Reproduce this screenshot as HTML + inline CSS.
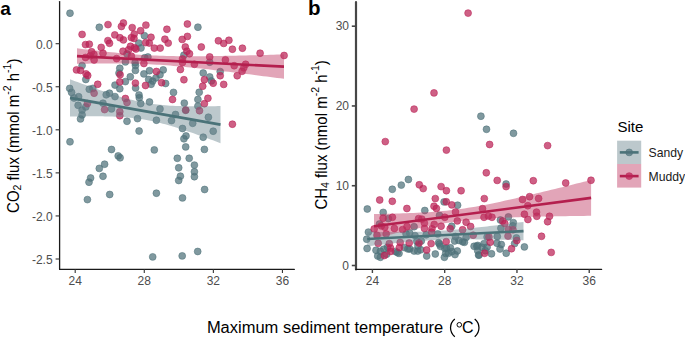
<!DOCTYPE html><html><head><meta charset="utf-8"><style>
html,body{margin:0;padding:0;background:#fff;width:685px;height:338px;overflow:hidden}
svg{display:block}
text{font-family:"Liberation Sans",sans-serif}
.tk{font-size:12px;fill:#4d4d4d}
.ti{font-size:16px;fill:#000}
.yt{font-size:15px;fill:#000}
.ss{font-size:10.5px}
.pl{font-size:19px;font-weight:bold;fill:#000}
.lt{font-size:15px;fill:#000}
.lg{font-size:12.2px;fill:#1a1a1a}
</style></head><body><svg width="685" height="338" viewBox="0 0 685 338"><rect width="685" height="338" fill="#fff"/><g fill="#4f727a" fill-opacity="0.72" stroke="#4f727a" stroke-opacity="0.72" stroke-width="0.75"><circle cx="70.0" cy="13.2" r="3.45"/><circle cx="197.9" cy="27.2" r="3.45"/><circle cx="99.3" cy="27.3" r="3.45"/><circle cx="144.4" cy="35.7" r="3.45"/><circle cx="138.8" cy="43.1" r="3.45"/><circle cx="141.0" cy="48.0" r="3.45"/><circle cx="127.0" cy="54.0" r="3.45"/><circle cx="125.4" cy="61.9" r="3.45"/><circle cx="135.1" cy="62.7" r="3.45"/><circle cx="135.5" cy="65.5" r="3.45"/><circle cx="144.7" cy="57.8" r="3.45"/><circle cx="147.9" cy="57.0" r="3.45"/><circle cx="82.1" cy="65.6" r="3.45"/><circle cx="85.8" cy="79.5" r="3.45"/><circle cx="119.8" cy="68.3" r="3.45"/><circle cx="119.0" cy="73.1" r="3.45"/><circle cx="130.3" cy="76.8" r="3.45"/><circle cx="125.4" cy="81.6" r="3.45"/><circle cx="115.0" cy="85.1" r="3.45"/><circle cx="119.8" cy="88.7" r="3.45"/><circle cx="135.4" cy="70.4" r="3.45"/><circle cx="143.9" cy="73.9" r="3.45"/><circle cx="149.5" cy="70.7" r="3.45"/><circle cx="163.2" cy="69.9" r="3.45"/><circle cx="160.0" cy="74.7" r="3.45"/><circle cx="148.7" cy="79.5" r="3.45"/><circle cx="152.7" cy="81.1" r="3.45"/><circle cx="155.9" cy="77.9" r="3.45"/><circle cx="151.1" cy="84.3" r="3.45"/><circle cx="165.6" cy="83.5" r="3.45"/><circle cx="135.6" cy="88.0" r="3.45"/><circle cx="92.8" cy="88.4" r="3.45"/><circle cx="89.3" cy="89.2" r="3.45"/><circle cx="69.7" cy="88.4" r="3.45"/><circle cx="71.6" cy="92.4" r="3.45"/><circle cx="106.2" cy="94.8" r="3.45"/><circle cx="109.5" cy="93.2" r="3.45"/><circle cx="115.0" cy="96.6" r="3.45"/><circle cx="78.6" cy="96.7" r="3.45"/><circle cx="74.0" cy="98.0" r="3.45"/><circle cx="139.0" cy="95.0" r="3.45"/><circle cx="139.3" cy="97.8" r="3.45"/><circle cx="185.7" cy="110.3" r="3.45"/><circle cx="183.9" cy="55.2" r="3.45"/><circle cx="209.7" cy="62.2" r="3.45"/><circle cx="203.2" cy="73.0" r="3.45"/><circle cx="220.2" cy="71.6" r="3.45"/><circle cx="209.7" cy="76.9" r="3.45"/><circle cx="211.4" cy="80.9" r="3.45"/><circle cx="199.2" cy="92.3" r="3.45"/><circle cx="173.5" cy="92.4" r="3.45"/><circle cx="197.9" cy="99.5" r="3.45"/><circle cx="140.7" cy="103.6" r="3.45"/><circle cx="149.5" cy="102.0" r="3.45"/><circle cx="78.1" cy="105.3" r="3.45"/><circle cx="85.8" cy="106.9" r="3.45"/><circle cx="82.1" cy="110.1" r="3.45"/><circle cx="82.1" cy="114.9" r="3.45"/><circle cx="80.5" cy="118.9" r="3.45"/><circle cx="103.0" cy="103.2" r="3.45"/><circle cx="111.5" cy="108.9" r="3.45"/><circle cx="127.0" cy="121.3" r="3.45"/><circle cx="137.5" cy="118.6" r="3.45"/><circle cx="139.1" cy="131.0" r="3.45"/><circle cx="160.0" cy="108.9" r="3.45"/><circle cx="156.4" cy="120.2" r="3.45"/><circle cx="171.5" cy="120.6" r="3.45"/><circle cx="70.0" cy="141.8" r="3.45"/><circle cx="184.3" cy="103.1" r="3.45"/><circle cx="197.9" cy="106.1" r="3.45"/><circle cx="175.5" cy="114.5" r="3.45"/><circle cx="208.4" cy="117.2" r="3.45"/><circle cx="192.7" cy="123.3" r="3.45"/><circle cx="182.5" cy="128.5" r="3.45"/><circle cx="213.2" cy="131.2" r="3.45"/><circle cx="186.0" cy="135.9" r="3.45"/><circle cx="183.9" cy="138.8" r="3.45"/><circle cx="203.2" cy="137.2" r="3.45"/><circle cx="111.5" cy="149.5" r="3.45"/><circle cx="118.2" cy="155.9" r="3.45"/><circle cx="120.1" cy="157.8" r="3.45"/><circle cx="154.3" cy="149.9" r="3.45"/><circle cx="104.6" cy="164.2" r="3.45"/><circle cx="99.3" cy="168.4" r="3.45"/><circle cx="103.0" cy="176.3" r="3.45"/><circle cx="90.6" cy="178.0" r="3.45"/><circle cx="89.0" cy="182.2" r="3.45"/><circle cx="185.7" cy="146.9" r="3.45"/><circle cx="204.4" cy="149.4" r="3.45"/><circle cx="177.3" cy="158.3" r="3.45"/><circle cx="189.2" cy="158.3" r="3.45"/><circle cx="194.4" cy="165.1" r="3.45"/><circle cx="178.7" cy="167.8" r="3.45"/><circle cx="194.4" cy="171.8" r="3.45"/><circle cx="194.4" cy="176.7" r="3.45"/><circle cx="180.4" cy="176.2" r="3.45"/><circle cx="178.7" cy="180.5" r="3.45"/><circle cx="204.6" cy="189.5" r="3.45"/><circle cx="109.7" cy="194.5" r="3.45"/><circle cx="87.4" cy="199.6" r="3.45"/><circle cx="156.4" cy="193.2" r="3.45"/><circle cx="182.5" cy="197.9" r="3.45"/><circle cx="152.7" cy="256.9" r="3.45"/><circle cx="182.2" cy="255.9" r="3.45"/><circle cx="197.7" cy="251.5" r="3.45"/></g><g fill="#bb2356" fill-opacity="0.72" stroke="#bb2356" stroke-opacity="0.72" stroke-width="0.75"><circle cx="108.0" cy="24.6" r="3.45"/><circle cx="123.4" cy="23.0" r="3.45"/><circle cx="121.4" cy="26.5" r="3.45"/><circle cx="132.2" cy="27.6" r="3.45"/><circle cx="145.9" cy="25.1" r="3.45"/><circle cx="166.9" cy="29.3" r="3.45"/><circle cx="82.1" cy="34.4" r="3.45"/><circle cx="114.8" cy="34.9" r="3.45"/><circle cx="119.9" cy="37.7" r="3.45"/><circle cx="123.4" cy="39.9" r="3.45"/><circle cx="140.6" cy="30.7" r="3.45"/><circle cx="134.2" cy="34.1" r="3.45"/><circle cx="134.0" cy="38.5" r="3.45"/><circle cx="131.4" cy="37.6" r="3.45"/><circle cx="151.0" cy="37.3" r="3.45"/><circle cx="145.7" cy="42.6" r="3.45"/><circle cx="149.3" cy="43.1" r="3.45"/><circle cx="164.9" cy="39.2" r="3.45"/><circle cx="168.2" cy="43.1" r="3.45"/><circle cx="107.9" cy="40.6" r="3.45"/><circle cx="109.5" cy="43.3" r="3.45"/><circle cx="85.5" cy="44.6" r="3.45"/><circle cx="89.3" cy="44.2" r="3.45"/><circle cx="101.2" cy="47.4" r="3.45"/><circle cx="91.6" cy="51.8" r="3.45"/><circle cx="103.0" cy="53.3" r="3.45"/><circle cx="130.5" cy="46.3" r="3.45"/><circle cx="134.5" cy="47.8" r="3.45"/><circle cx="154.3" cy="48.1" r="3.45"/><circle cx="160.2" cy="48.1" r="3.45"/><circle cx="123.0" cy="51.2" r="3.45"/><circle cx="85.5" cy="57.5" r="3.45"/><circle cx="94.1" cy="60.0" r="3.45"/><circle cx="93.9" cy="54.5" r="3.45"/><circle cx="90.3" cy="55.8" r="3.45"/><circle cx="116.6" cy="58.6" r="3.45"/><circle cx="131.4" cy="56.2" r="3.45"/><circle cx="128.6" cy="49.8" r="3.45"/><circle cx="135.9" cy="49.0" r="3.45"/><circle cx="143.9" cy="63.5" r="3.45"/><circle cx="76.5" cy="69.9" r="3.45"/><circle cx="80.5" cy="70.4" r="3.45"/><circle cx="86.1" cy="73.9" r="3.45"/><circle cx="87.7" cy="75.5" r="3.45"/><circle cx="120.1" cy="74.7" r="3.45"/><circle cx="119.8" cy="81.9" r="3.45"/><circle cx="156.4" cy="71.5" r="3.45"/><circle cx="161.6" cy="82.7" r="3.45"/><circle cx="135.4" cy="83.1" r="3.45"/><circle cx="145.5" cy="85.5" r="3.45"/><circle cx="97.7" cy="84.3" r="3.45"/><circle cx="94.1" cy="93.2" r="3.45"/><circle cx="125.4" cy="98.5" r="3.45"/><circle cx="127.0" cy="102.5" r="3.45"/><circle cx="87.4" cy="103.6" r="3.45"/><circle cx="104.6" cy="109.6" r="3.45"/><circle cx="119.8" cy="111.7" r="3.45"/><circle cx="119.8" cy="115.7" r="3.45"/><circle cx="187.4" cy="24.0" r="3.45"/><circle cx="187.4" cy="36.4" r="3.45"/><circle cx="182.2" cy="39.4" r="3.45"/><circle cx="218.4" cy="40.8" r="3.45"/><circle cx="223.7" cy="43.4" r="3.45"/><circle cx="228.9" cy="40.3" r="3.45"/><circle cx="201.3" cy="47.0" r="3.45"/><circle cx="185.3" cy="47.0" r="3.45"/><circle cx="232.4" cy="49.2" r="3.45"/><circle cx="242.4" cy="48.2" r="3.45"/><circle cx="186.9" cy="51.2" r="3.45"/><circle cx="189.5" cy="53.8" r="3.45"/><circle cx="260.1" cy="53.2" r="3.45"/><circle cx="284.1" cy="55.5" r="3.45"/><circle cx="209.7" cy="56.9" r="3.45"/><circle cx="225.4" cy="59.9" r="3.45"/><circle cx="182.5" cy="59.0" r="3.45"/><circle cx="182.5" cy="62.5" r="3.45"/><circle cx="194.4" cy="64.3" r="3.45"/><circle cx="234.2" cy="65.7" r="3.45"/><circle cx="245.6" cy="64.3" r="3.45"/><circle cx="243.8" cy="67.8" r="3.45"/><circle cx="242.1" cy="71.3" r="3.45"/><circle cx="237.2" cy="75.7" r="3.45"/><circle cx="180.4" cy="69.5" r="3.45"/><circle cx="220.2" cy="75.7" r="3.45"/><circle cx="213.2" cy="83.2" r="3.45"/><circle cx="204.4" cy="79.7" r="3.45"/><circle cx="183.9" cy="79.7" r="3.45"/><circle cx="202.7" cy="86.2" r="3.45"/><circle cx="223.7" cy="84.4" r="3.45"/><circle cx="207.9" cy="98.3" r="3.45"/><circle cx="185.7" cy="110.1" r="3.45"/><circle cx="199.5" cy="110.7" r="3.45"/><circle cx="204.4" cy="103.7" r="3.45"/><circle cx="232.4" cy="124.2" r="3.45"/><circle cx="172.5" cy="99.5" r="3.45"/></g><polygon points="70.00,79.27 72.51,80.21 75.02,81.14 77.53,82.07 80.03,82.99 82.54,83.91 85.05,84.82 87.56,85.73 90.07,86.63 92.58,87.52 95.08,88.41 97.59,89.29 100.10,90.16 102.61,91.02 105.12,91.87 107.62,92.71 110.13,93.54 112.64,94.35 115.15,95.14 117.66,95.92 120.17,96.68 122.67,97.42 125.18,98.13 127.69,98.82 130.20,99.49 132.71,100.12 135.22,100.72 137.72,101.29 140.23,101.83 142.74,102.33 145.25,102.80 147.76,103.23 150.27,103.63 152.78,103.99 155.28,104.31 157.79,104.60 160.30,104.87 162.81,105.10 165.32,105.30 167.82,105.48 170.33,105.64 172.84,105.77 175.35,105.89 177.86,105.99 180.37,106.07 182.88,106.14 185.38,106.19 187.89,106.23 190.40,106.26 192.91,106.29 195.42,106.30 197.93,106.30 200.43,106.30 202.94,106.29 205.45,106.27 207.96,106.25 210.47,106.22 212.97,106.19 215.48,106.15 217.99,106.11 220.50,106.07 220.50,143.13 217.99,142.20 215.48,141.27 212.97,140.34 210.47,139.42 207.96,138.50 205.45,137.59 202.94,136.68 200.43,135.78 197.93,134.89 195.42,134.00 192.91,133.12 190.40,132.26 187.89,131.40 185.38,130.55 182.88,129.71 180.37,128.89 177.86,128.08 175.35,127.29 172.84,126.52 170.33,125.76 167.82,125.03 165.32,124.32 162.81,123.63 160.30,122.97 157.79,122.35 155.28,121.75 152.78,121.18 150.27,120.65 147.76,120.16 145.25,119.70 142.74,119.28 140.23,118.89 137.72,118.54 135.22,118.22 132.71,117.93 130.20,117.67 127.69,117.45 125.18,117.25 122.67,117.07 120.17,116.92 117.66,116.79 115.15,116.68 112.64,116.58 110.13,116.50 107.62,116.44 105.12,116.39 102.61,116.35 100.10,116.32 97.59,116.30 95.08,116.29 92.58,116.29 90.07,116.29 87.56,116.30 85.05,116.32 82.54,116.34 80.03,116.37 77.53,116.40 75.02,116.44 72.51,116.48 70.00,116.53" fill="#6b858e" fill-opacity="0.45"/><polygon points="77.00,48.35 80.45,48.76 83.90,49.17 87.35,49.58 90.80,49.98 94.25,50.37 97.70,50.76 101.15,51.14 104.60,51.51 108.05,51.88 111.50,52.24 114.95,52.58 118.40,52.92 121.85,53.24 125.30,53.55 128.75,53.85 132.20,54.13 135.65,54.40 139.10,54.65 142.55,54.88 146.00,55.09 149.45,55.29 152.90,55.46 156.35,55.62 159.80,55.75 163.25,55.87 166.70,55.97 170.15,56.05 173.60,56.12 177.05,56.17 180.50,56.21 183.95,56.23 187.40,56.25 190.85,56.25 194.30,56.24 197.75,56.23 201.20,56.20 204.65,56.17 208.10,56.13 211.55,56.09 215.00,56.04 218.45,55.98 221.90,55.92 225.35,55.86 228.80,55.79 232.25,55.72 235.70,55.65 239.15,55.57 242.60,55.49 246.05,55.41 249.50,55.33 252.95,55.24 256.40,55.15 259.85,55.06 263.30,54.97 266.75,54.88 270.20,54.79 273.65,54.69 277.10,54.60 280.55,54.50 284.00,54.40 284.00,78.80 280.55,78.35 277.10,77.90 273.65,77.46 270.20,77.01 266.75,76.57 263.30,76.13 259.85,75.69 256.40,75.25 252.95,74.81 249.50,74.37 246.05,73.94 242.60,73.51 239.15,73.08 235.70,72.65 232.25,72.23 228.80,71.81 225.35,71.39 221.90,70.98 218.45,70.57 215.00,70.16 211.55,69.76 208.10,69.37 204.65,68.98 201.20,68.60 197.75,68.22 194.30,67.86 190.85,67.50 187.40,67.15 183.95,66.82 180.50,66.49 177.05,66.18 173.60,65.88 170.15,65.60 166.70,65.33 163.25,65.08 159.80,64.85 156.35,64.63 152.90,64.44 149.45,64.26 146.00,64.11 142.55,63.97 139.10,63.85 135.65,63.75 132.20,63.67 128.75,63.60 125.30,63.55 121.85,63.51 118.40,63.48 114.95,63.47 111.50,63.46 108.05,63.47 104.60,63.49 101.15,63.51 97.70,63.54 94.25,63.58 90.80,63.62 87.35,63.67 83.90,63.73 80.45,63.79 77.00,63.85" fill="#be3761" fill-opacity="0.45"/><line x1="70.0" y1="97.9" x2="220.5" y2="124.6" stroke="#4b7379" stroke-width="2.6"/><line x1="77.0" y1="56.1" x2="284.0" y2="66.6" stroke="#b41f4e" stroke-width="2.6"/><g fill="#4f727a" fill-opacity="0.72" stroke="#4f727a" stroke-opacity="0.72" stroke-width="0.75"><circle cx="480.9" cy="116.2" r="3.45"/><circle cx="486.5" cy="129.3" r="3.45"/><circle cx="513.5" cy="133.3" r="3.45"/><circle cx="408.4" cy="179.5" r="3.45"/><circle cx="401.3" cy="185.1" r="3.45"/><circle cx="392.3" cy="189.3" r="3.45"/><circle cx="367.3" cy="209.0" r="3.45"/><circle cx="383.2" cy="212.4" r="3.45"/><circle cx="424.8" cy="210.5" r="3.45"/><circle cx="444.1" cy="201.9" r="3.45"/><circle cx="457.6" cy="205.2" r="3.45"/><circle cx="506.1" cy="184.0" r="3.45"/><circle cx="388.4" cy="218.6" r="3.45"/><circle cx="379.5" cy="224.0" r="3.45"/><circle cx="414.1" cy="226.7" r="3.45"/><circle cx="368.4" cy="232.1" r="3.45"/><circle cx="366.7" cy="239.2" r="3.45"/><circle cx="367.1" cy="248.5" r="3.45"/><circle cx="376.0" cy="250.3" r="3.45"/><circle cx="380.4" cy="251.2" r="3.45"/><circle cx="383.8" cy="249.2" r="3.45"/><circle cx="387.5" cy="247.2" r="3.45"/><circle cx="395.5" cy="251.6" r="3.45"/><circle cx="404.4" cy="247.6" r="3.45"/><circle cx="406.1" cy="233.9" r="3.45"/><circle cx="409.7" cy="233.0" r="3.45"/><circle cx="415.0" cy="235.6" r="3.45"/><circle cx="416.8" cy="241.4" r="3.45"/><circle cx="418.0" cy="246.0" r="3.45"/><circle cx="409.7" cy="249.0" r="3.45"/><circle cx="414.1" cy="251.0" r="3.45"/><circle cx="399.0" cy="253.4" r="3.45"/><circle cx="407.9" cy="248.9" r="3.45"/><circle cx="417.7" cy="251.1" r="3.45"/><circle cx="377.7" cy="256.0" r="3.45"/><circle cx="380.4" cy="257.3" r="3.45"/><circle cx="386.6" cy="254.2" r="3.45"/><circle cx="397.3" cy="252.4" r="3.45"/><circle cx="439.5" cy="215.5" r="3.45"/><circle cx="451.7" cy="226.3" r="3.45"/><circle cx="426.2" cy="234.8" r="3.45"/><circle cx="437.7" cy="233.9" r="3.45"/><circle cx="421.3" cy="241.0" r="3.45"/><circle cx="420.7" cy="249.8" r="3.45"/><circle cx="438.6" cy="242.7" r="3.45"/><circle cx="440.4" cy="246.3" r="3.45"/><circle cx="446.6" cy="248.1" r="3.45"/><circle cx="450.4" cy="247.8" r="3.45"/><circle cx="454.6" cy="241.0" r="3.45"/><circle cx="459.0" cy="240.5" r="3.45"/><circle cx="464.4" cy="242.3" r="3.45"/><circle cx="466.1" cy="237.4" r="3.45"/><circle cx="455.5" cy="236.5" r="3.45"/><circle cx="457.3" cy="251.0" r="3.45"/><circle cx="451.9" cy="251.6" r="3.45"/><circle cx="435.3" cy="254.0" r="3.45"/><circle cx="445.7" cy="253.4" r="3.45"/><circle cx="474.1" cy="246.3" r="3.45"/><circle cx="477.7" cy="245.4" r="3.45"/><circle cx="477.7" cy="250.7" r="3.45"/><circle cx="426.7" cy="256.0" r="3.45"/><circle cx="444.4" cy="257.3" r="3.45"/><circle cx="448.4" cy="253.3" r="3.45"/><circle cx="444.8" cy="248.4" r="3.45"/><circle cx="455.0" cy="254.6" r="3.45"/><circle cx="439.5" cy="244.0" r="3.45"/><circle cx="462.6" cy="241.8" r="3.45"/><circle cx="478.6" cy="255.1" r="3.45"/><circle cx="508.4" cy="216.9" r="3.45"/><circle cx="500.4" cy="220.0" r="3.45"/><circle cx="513.3" cy="222.6" r="3.45"/><circle cx="500.9" cy="228.2" r="3.45"/><circle cx="512.8" cy="225.9" r="3.45"/><circle cx="516.4" cy="237.9" r="3.45"/><circle cx="514.6" cy="243.6" r="3.45"/><circle cx="524.4" cy="246.9" r="3.45"/><circle cx="487.1" cy="237.0" r="3.45"/><circle cx="497.3" cy="236.5" r="3.45"/><circle cx="496.9" cy="243.2" r="3.45"/><circle cx="501.3" cy="244.5" r="3.45"/><circle cx="500.0" cy="249.0" r="3.45"/><circle cx="484.0" cy="243.6" r="3.45"/><circle cx="481.8" cy="247.2" r="3.45"/><circle cx="487.1" cy="247.2" r="3.45"/><circle cx="485.3" cy="250.7" r="3.45"/><circle cx="491.5" cy="253.8" r="3.45"/><circle cx="506.2" cy="253.2" r="3.45"/><circle cx="476.8" cy="246.2" r="3.45"/><circle cx="479.0" cy="255.1" r="3.45"/></g><g fill="#bb2356" fill-opacity="0.72" stroke="#bb2356" stroke-opacity="0.72" stroke-width="0.75"><circle cx="468.1" cy="13.1" r="3.45"/><circle cx="434.0" cy="92.9" r="3.45"/><circle cx="414.1" cy="109.1" r="3.45"/><circle cx="385.3" cy="141.6" r="3.45"/><circle cx="446.4" cy="150.1" r="3.45"/><circle cx="489.6" cy="144.5" r="3.45"/><circle cx="547.6" cy="145.6" r="3.45"/><circle cx="486.3" cy="172.8" r="3.45"/><circle cx="419.3" cy="184.8" r="3.45"/><circle cx="423.2" cy="188.6" r="3.45"/><circle cx="379.7" cy="200.0" r="3.45"/><circle cx="392.3" cy="201.3" r="3.45"/><circle cx="435.3" cy="198.6" r="3.45"/><circle cx="434.0" cy="206.3" r="3.45"/><circle cx="436.4" cy="208.4" r="3.45"/><circle cx="406.9" cy="208.5" r="3.45"/><circle cx="497.2" cy="180.4" r="3.45"/><circle cx="506.1" cy="186.6" r="3.45"/><circle cx="441.1" cy="186.6" r="3.45"/><circle cx="446.4" cy="190.7" r="3.45"/><circle cx="461.1" cy="190.7" r="3.45"/><circle cx="484.3" cy="198.6" r="3.45"/><circle cx="446.3" cy="201.8" r="3.45"/><circle cx="451.8" cy="204.9" r="3.45"/><circle cx="482.5" cy="208.7" r="3.45"/><circle cx="533.3" cy="180.7" r="3.45"/><circle cx="565.7" cy="183.0" r="3.45"/><circle cx="591.0" cy="180.3" r="3.45"/><circle cx="522.5" cy="199.5" r="3.45"/><circle cx="529.6" cy="196.7" r="3.45"/><circle cx="538.6" cy="198.5" r="3.45"/><circle cx="527.8" cy="205.7" r="3.45"/><circle cx="536.5" cy="212.1" r="3.45"/><circle cx="536.8" cy="216.3" r="3.45"/><circle cx="549.5" cy="216.3" r="3.45"/><circle cx="547.6" cy="221.7" r="3.45"/><circle cx="541.5" cy="236.3" r="3.45"/><circle cx="551.2" cy="252.4" r="3.45"/><circle cx="383.1" cy="218.2" r="3.45"/><circle cx="392.4" cy="217.3" r="3.45"/><circle cx="418.6" cy="218.6" r="3.45"/><circle cx="374.2" cy="228.9" r="3.45"/><circle cx="407.0" cy="226.5" r="3.45"/><circle cx="402.6" cy="229.6" r="3.45"/><circle cx="394.4" cy="228.5" r="3.45"/><circle cx="381.3" cy="225.9" r="3.45"/><circle cx="384.8" cy="227.2" r="3.45"/><circle cx="376.9" cy="235.2" r="3.45"/><circle cx="386.2" cy="233.9" r="3.45"/><circle cx="378.2" cy="243.3" r="3.45"/><circle cx="389.3" cy="243.6" r="3.45"/><circle cx="390.6" cy="248.1" r="3.45"/><circle cx="400.2" cy="242.5" r="3.45"/><circle cx="399.4" cy="247.6" r="3.45"/><circle cx="409.2" cy="243.0" r="3.45"/><circle cx="455.5" cy="212.0" r="3.45"/><circle cx="444.8" cy="217.3" r="3.45"/><circle cx="421.8" cy="219.1" r="3.45"/><circle cx="424.4" cy="223.1" r="3.45"/><circle cx="457.3" cy="220.9" r="3.45"/><circle cx="466.1" cy="222.2" r="3.45"/><circle cx="470.6" cy="226.5" r="3.45"/><circle cx="434.2" cy="224.4" r="3.45"/><circle cx="441.1" cy="226.2" r="3.45"/><circle cx="450.2" cy="228.7" r="3.45"/><circle cx="424.5" cy="228.5" r="3.45"/><circle cx="432.0" cy="228.8" r="3.45"/><circle cx="462.6" cy="229.8" r="3.45"/><circle cx="473.2" cy="235.2" r="3.45"/><circle cx="431.5" cy="232.1" r="3.45"/><circle cx="446.2" cy="241.6" r="3.45"/><circle cx="431.1" cy="243.6" r="3.45"/><circle cx="426.7" cy="250.0" r="3.45"/><circle cx="524.4" cy="214.2" r="3.45"/><circle cx="527.9" cy="219.5" r="3.45"/><circle cx="484.0" cy="217.3" r="3.45"/><circle cx="488.4" cy="216.0" r="3.45"/><circle cx="492.0" cy="217.3" r="3.45"/><circle cx="502.6" cy="220.9" r="3.45"/><circle cx="504.8" cy="223.5" r="3.45"/><circle cx="508.4" cy="229.6" r="3.45"/><circle cx="513.0" cy="229.8" r="3.45"/><circle cx="508.0" cy="236.1" r="3.45"/><circle cx="516.8" cy="240.5" r="3.45"/><circle cx="511.5" cy="248.7" r="3.45"/><circle cx="488.9" cy="237.0" r="3.45"/><circle cx="490.2" cy="242.3" r="3.45"/><circle cx="484.6" cy="253.3" r="3.45"/><circle cx="384.4" cy="255.5" r="3.45"/><circle cx="390.6" cy="251.5" r="3.45"/><circle cx="419.0" cy="243.0" r="3.45"/></g><polygon points="367.20,231.72 369.81,231.77 372.41,231.82 375.01,231.86 377.62,231.89 380.22,231.93 382.83,231.96 385.44,231.98 388.04,232.01 390.64,232.02 393.25,232.03 395.86,232.04 398.46,232.04 401.06,232.03 403.67,232.01 406.27,231.99 408.88,231.96 411.49,231.92 414.09,231.87 416.69,231.81 419.30,231.74 421.90,231.67 424.51,231.58 427.12,231.47 429.72,231.36 432.32,231.24 434.93,231.10 437.53,230.95 440.14,230.79 442.75,230.62 445.35,230.44 447.95,230.25 450.56,230.04 453.16,229.83 455.77,229.61 458.38,229.38 460.98,229.14 463.58,228.89 466.19,228.64 468.80,228.38 471.40,228.11 474.00,227.84 476.61,227.56 479.22,227.28 481.82,226.99 484.43,226.70 487.03,226.40 489.63,226.10 492.24,225.80 494.85,225.49 497.45,225.18 500.05,224.87 502.66,224.55 505.26,224.23 507.87,223.91 510.48,223.59 513.08,223.27 515.68,222.94 518.29,222.61 520.89,222.29 523.50,221.96 523.50,240.24 520.89,240.18 518.29,240.11 515.68,240.05 513.08,239.99 510.48,239.93 507.87,239.87 505.26,239.81 502.66,239.76 500.05,239.70 497.45,239.65 494.85,239.61 492.24,239.56 489.63,239.52 487.03,239.49 484.43,239.45 481.82,239.42 479.22,239.40 476.61,239.38 474.00,239.36 471.40,239.35 468.80,239.35 466.19,239.35 463.58,239.36 460.98,239.38 458.38,239.40 455.77,239.44 453.16,239.48 450.56,239.53 447.95,239.59 445.35,239.66 442.75,239.74 440.14,239.83 437.53,239.94 434.93,240.05 432.32,240.18 429.72,240.32 427.12,240.47 424.51,240.63 421.90,240.80 419.30,240.99 416.69,241.18 414.09,241.39 411.49,241.60 408.88,241.83 406.27,242.06 403.67,242.30 401.06,242.55 398.46,242.80 395.86,243.06 393.25,243.33 390.64,243.61 388.04,243.89 385.44,244.17 382.83,244.46 380.22,244.75 377.62,245.05 375.01,245.35 372.41,245.66 369.81,245.97 367.20,246.28" fill="#6b858e" fill-opacity="0.45"/><polygon points="374.00,214.10 377.62,214.03 381.24,213.95 384.86,213.86 388.47,213.77 392.09,213.67 395.71,213.56 399.33,213.45 402.95,213.33 406.56,213.20 410.18,213.06 413.80,212.90 417.42,212.73 421.04,212.55 424.66,212.35 428.27,212.13 431.89,211.89 435.51,211.62 439.13,211.33 442.75,211.01 446.37,210.66 449.99,210.28 453.60,209.86 457.22,209.41 460.84,208.93 464.46,208.41 468.08,207.85 471.69,207.27 475.31,206.65 478.93,206.00 482.55,205.33 486.17,204.63 489.79,203.91 493.41,203.17 497.02,202.42 500.64,201.64 504.26,200.85 507.88,200.05 511.50,199.24 515.12,198.42 518.73,197.59 522.35,196.75 525.97,195.90 529.59,195.05 533.21,194.19 536.83,193.33 540.44,192.46 544.06,191.58 547.68,190.71 551.30,189.83 554.92,188.94 558.53,188.05 562.15,187.16 565.77,186.27 569.39,185.38 573.01,184.48 576.63,183.58 580.25,182.68 583.86,181.78 587.48,180.88 591.10,179.97 591.10,215.83 587.48,215.87 583.86,215.91 580.25,215.96 576.63,216.00 573.01,216.05 569.39,216.10 565.77,216.15 562.15,216.21 558.53,216.27 554.92,216.33 551.30,216.39 547.68,216.45 544.06,216.52 540.44,216.60 536.83,216.67 533.21,216.76 529.59,216.84 525.97,216.94 522.35,217.04 518.73,217.15 515.12,217.26 511.50,217.39 507.88,217.52 504.26,217.67 500.64,217.83 497.02,218.00 493.41,218.19 489.79,218.39 486.17,218.62 482.55,218.87 478.93,219.14 475.31,219.44 471.69,219.77 468.08,220.13 464.46,220.53 460.84,220.95 457.22,221.41 453.60,221.91 449.99,222.44 446.37,223.01 442.75,223.60 439.13,224.23 435.51,224.88 431.89,225.57 428.27,226.27 424.66,227.00 421.04,227.74 417.42,228.51 413.80,229.28 410.18,230.08 406.56,230.88 402.95,231.70 399.33,232.52 395.71,233.36 392.09,234.20 388.47,235.05 384.86,235.90 381.24,236.76 377.62,237.63 374.00,238.50" fill="#be3761" fill-opacity="0.45"/><line x1="367.2" y1="239.0" x2="523.5" y2="231.1" stroke="#4b7379" stroke-width="2.6"/><line x1="374.0" y1="226.3" x2="591.1" y2="197.9" stroke="#b41f4e" stroke-width="2.6"/><line x1="59.6" y1="1.6" x2="59.6" y2="269.4" stroke="#1a1a1a" stroke-width="1.3" stroke-linecap="round"/><line x1="59.6" y1="269.4" x2="294.3" y2="269.4" stroke="#1a1a1a" stroke-width="1.3" stroke-linecap="round"/><line x1="55.6" y1="43.70" x2="59.6" y2="43.70" stroke="#333" stroke-width="1.1"/><text x="52.6" y="48.50" text-anchor="end" class="tk">0.0</text><line x1="55.6" y1="86.76" x2="59.6" y2="86.76" stroke="#333" stroke-width="1.1"/><text x="52.6" y="91.56" text-anchor="end" class="tk">-0.5</text><line x1="55.6" y1="129.82" x2="59.6" y2="129.82" stroke="#333" stroke-width="1.1"/><text x="52.6" y="134.62" text-anchor="end" class="tk">-1.0</text><line x1="55.6" y1="172.88" x2="59.6" y2="172.88" stroke="#333" stroke-width="1.1"/><text x="52.6" y="177.68" text-anchor="end" class="tk">-1.5</text><line x1="55.6" y1="215.94" x2="59.6" y2="215.94" stroke="#333" stroke-width="1.1"/><text x="52.6" y="220.74" text-anchor="end" class="tk">-2.0</text><line x1="55.6" y1="259.00" x2="59.6" y2="259.00" stroke="#333" stroke-width="1.1"/><text x="52.6" y="263.80" text-anchor="end" class="tk">-2.5</text><line x1="75.20" y1="269.3" x2="75.20" y2="273" stroke="#333" stroke-width="1.1"/><text x="75.20" y="285.0" text-anchor="middle" class="tk">24</text><line x1="144.28" y1="269.3" x2="144.28" y2="273" stroke="#333" stroke-width="1.1"/><text x="144.28" y="285.0" text-anchor="middle" class="tk">28</text><line x1="213.36" y1="269.3" x2="213.36" y2="273" stroke="#333" stroke-width="1.1"/><text x="213.36" y="285.0" text-anchor="middle" class="tk">32</text><line x1="282.44" y1="269.3" x2="282.44" y2="273" stroke="#333" stroke-width="1.1"/><text x="282.44" y="285.0" text-anchor="middle" class="tk">36</text><line x1="356.0" y1="2.0" x2="356.0" y2="269.4" stroke="#474747" stroke-width="2.2" stroke-linecap="round"/><line x1="356" y1="269.4" x2="601.6" y2="269.4" stroke="#1a1a1a" stroke-width="1.3" stroke-linecap="round"/><line x1="351.8" y1="265.50" x2="355.9" y2="265.50" stroke="#444" stroke-width="1.6"/><text x="349" y="269.50" text-anchor="end" class="tk">0</text><line x1="351.8" y1="185.73" x2="355.9" y2="185.73" stroke="#444" stroke-width="1.6"/><text x="349" y="189.73" text-anchor="end" class="tk">10</text><line x1="351.8" y1="105.96" x2="355.9" y2="105.96" stroke="#444" stroke-width="1.6"/><text x="349" y="109.96" text-anchor="end" class="tk">20</text><line x1="351.8" y1="26.19" x2="355.9" y2="26.19" stroke="#444" stroke-width="1.6"/><text x="349" y="30.19" text-anchor="end" class="tk">30</text><line x1="372.40" y1="269.4" x2="372.40" y2="273" stroke="#444" stroke-width="1.4"/><text x="372.40" y="285.0" text-anchor="middle" class="tk">24</text><line x1="444.68" y1="269.4" x2="444.68" y2="273" stroke="#444" stroke-width="1.4"/><text x="444.68" y="285.0" text-anchor="middle" class="tk">28</text><line x1="516.96" y1="269.4" x2="516.96" y2="273" stroke="#444" stroke-width="1.4"/><text x="516.96" y="285.0" text-anchor="middle" class="tk">32</text><line x1="589.24" y1="269.4" x2="589.24" y2="273" stroke="#444" stroke-width="1.4"/><text x="589.24" y="285.0" text-anchor="middle" class="tk">36</text><text x="0.2" y="15.0" class="pl">a</text><text x="307.9" y="15.0" class="pl" style="font-size:20.5px">b</text><text transform="translate(18.9,212.9) rotate(-90) scale(1,1.06)" class="yt">CO<tspan class="ss" dy="2.4">2</tspan><tspan dy="-2.4"> flux (mmol m</tspan><tspan class="ss" dy="-7.5">-2</tspan><tspan dy="7.5"> h</tspan><tspan class="ss" dy="-7.5">-1</tspan><tspan dy="7.5">)</tspan></text><text transform="translate(326.7,209.6) rotate(-90) scale(1,1.06)" class="yt">CH<tspan class="ss" dy="2.4">4</tspan><tspan dy="-2.4"> flux (nmol m</tspan><tspan class="ss" dy="-7.5">-2</tspan><tspan dy="7.5"> h</tspan><tspan class="ss" dy="-7.5">-1</tspan><tspan dy="7.5">)</tspan></text><text x="206.9" y="333.0" class="ti" textLength="236.4" lengthAdjust="spacingAndGlyphs">Maximum sediment temperature</text><path d="M454.8,318.9 C449.1,323.6 449.1,332.0 454.8,336.7" fill="none" stroke="#000" stroke-width="1.25"/><path d="M474.7,318.9 C480.4,323.6 480.4,332.0 474.7,336.7" fill="none" stroke="#000" stroke-width="1.25"/><circle cx="459.3" cy="324.8" r="2.3" fill="none" stroke="#000" stroke-width="0.95"/><text x="462.0" y="333.0" class="ti">C</text><text x="617.5" y="131.8" class="lt">Site</text><rect x="617.1" y="140.7" width="24.1" height="23.3" fill="#6b858e" fill-opacity="0.45"/><rect x="617.1" y="164.0" width="24.1" height="23.6" fill="#be3761" fill-opacity="0.45"/><line x1="619.8" y1="152.4" x2="638.6" y2="152.4" stroke="#4b7379" stroke-width="2.6"/><line x1="619.8" y1="176.1" x2="638.6" y2="176.1" stroke="#b41f4e" stroke-width="2.6"/><circle cx="629.2" cy="152.4" r="3.45" fill="#4f727a" fill-opacity="0.72" stroke="#4f727a" stroke-opacity="0.72" stroke-width="0.75"/><circle cx="629.2" cy="176.1" r="3.45" fill="#bb2356" fill-opacity="0.72" stroke="#bb2356" stroke-opacity="0.72" stroke-width="0.75"/><text x="648.5" y="157.3" class="lg">Sandy</text><text x="648.5" y="181.0" class="lg">Muddy</text></svg></body></html>
